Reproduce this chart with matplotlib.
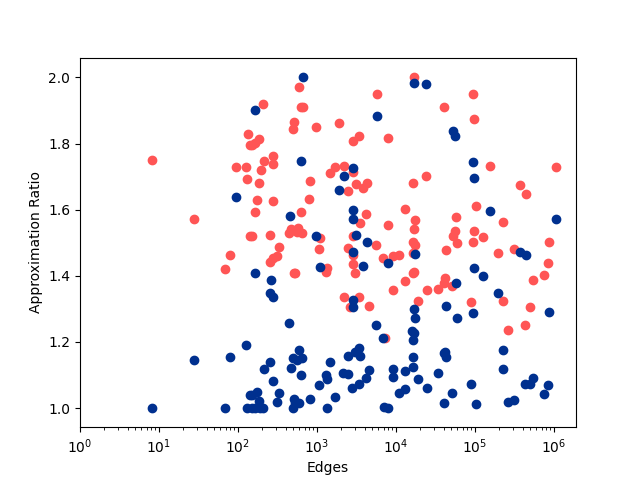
import matplotlib
matplotlib.use("Agg")
import matplotlib.pyplot as plt

red_edges = [8.2, 95, 126, 133, 142, 130, 28, 142, 80, 69,
             209, 597, 633, 671, 516, 501, 980, 1915, 5800, 17000,
             3430, 2880, 8000, 186, 164, 149, 280, 280, 213, 197,
             186, 176, 280, 166, 149, 256, 333, 823, 799, 633,
             473, 446, 580, 652, 553, 1092, 1070, 1690, 1473, 2217,
             2880, 3143, 3855, 4330, 2490, 16560, 13100, 4200, 3530, 8000,
             17500, 17000, 16560, 17500, 2880, 5580, 2490, 314, 275, 254,
             2880, 2880, 3055, 511, 531, 1327, 1300, 6900, 9250, 11000,
             16260, 16560, 17000, 13100, 9250, 19000, 2217, 3430, 4590, 2620,
             7260, 43000, 59700, 95000, 127000, 197000, 314000, 873000, 847000, 754000,
             547000, 42100, 40900, 34300, 24900, 51600, 89000, 228000, 501000, 433000,
             264000, 95000, 40900, 98000, 156000, 1070000, 24200, 374000, 446000, 104000,
             58000, 228000, 56300, 53100, 98000]
red_ratio = [1.75, 1.728, 1.73, 1.828, 1.795, 1.692, 1.571, 1.519, 1.462, 1.421,
             1.919, 1.97, 1.91, 1.91, 1.864, 1.843, 1.849, 1.861, 1.949, 2.0,
             1.822, 1.807, 1.816, 1.813, 1.801, 1.795, 1.762, 1.739, 1.746, 1.719,
             1.68, 1.628, 1.625, 1.592, 1.519, 1.522, 1.486, 1.686, 1.631, 1.592,
             1.541, 1.529, 1.544, 1.529, 1.533, 1.513, 1.481, 1.728, 1.71, 1.731,
             1.713, 1.677, 1.665, 1.68, 1.656, 1.68, 1.601, 1.586, 1.559, 1.553,
             1.568, 1.541, 1.503, 1.493, 1.519, 1.492, 1.483, 1.459, 1.454, 1.442,
             1.463, 1.436, 1.408, 1.408, 1.408, 1.423, 1.411, 1.454, 1.46, 1.462,
             1.468, 1.409, 1.412, 1.383, 1.356, 1.323, 1.335, 1.335, 1.308, 1.306,
             1.211, 1.478, 1.5, 1.503, 1.516, 1.468, 1.48, 1.503, 1.438, 1.401,
             1.386, 1.392, 1.377, 1.359, 1.356, 1.368, 1.32, 1.323, 1.305, 1.25,
             1.235, 1.949, 1.91, 1.873, 1.731, 1.728, 1.701, 1.674, 1.647, 1.61,
             1.577, 1.562, 1.535, 1.519, 1.535]

blue_edges = [8.2, 28, 80, 127, 142, 69, 130, 95, 671, 166,
              5800, 17000, 633, 2880, 2217, 1915, 459, 980, 2880, 2880,
              3143, 4330, 2880, 166, 264, 254, 280, 446, 1092, 3855,
              8000, 17500, 2880, 2880, 17000, 17500, 5580, 15950, 17000, 16560,
              6900, 16560, 16560, 9250, 9250, 13100, 19150, 4590, 4200, 3430,
              2800, 13100, 11000, 7110, 8000, 1706, 1350, 815, 1070, 1350,
              1300, 633, 473, 501, 553, 652, 597, 1473, 2490, 3055,
              3430, 3530, 2153, 2490, 256, 213, 280, 333, 314, 176,
              149, 186, 149, 164, 190, 209, 516, 597, 501, 531,
              43300, 59700, 95000, 58000, 98000, 127000, 197000, 374000, 446000, 873000,
              228000, 228000, 547000, 433000, 501000, 847000, 754000, 264000, 314000, 104000,
              40900, 51600, 89000, 34300, 24900, 42100, 40900, 43000, 24200, 53100,
              56300, 95000, 98000, 156000, 1070000]
blue_ratio = [1.0, 1.144, 1.154, 1.19, 1.038, 1.0, 1.0, 1.6375, 2.0, 1.9,
              1.883, 1.982, 1.746, 1.725, 1.701, 1.659, 1.58, 1.519, 1.598, 1.571,
              1.523, 1.501, 1.471, 1.407, 1.386, 1.348, 1.335, 1.256, 1.426, 1.429,
              1.438, 1.465, 1.327, 1.305, 1.301, 1.271, 1.25, 1.232, 1.227, 1.205,
              1.211, 1.153, 1.123, 1.117, 1.093, 1.111, 1.087, 1.114, 1.09, 1.072,
              1.06, 1.057, 1.044, 1.002, 1.0, 1.032, 1.0, 1.026, 1.069, 1.087,
              1.099, 1.099, 1.12, 1.15, 1.144, 1.15, 1.175, 1.138, 1.156, 1.169,
              1.181, 1.156, 1.105, 1.102, 1.138, 1.117, 1.081, 1.044, 1.017, 1.047,
              1.038, 1.022, 1.0, 1.0, 1.0, 1.0, 1.026, 1.014, 1.0, 1.014,
              1.308, 1.271, 1.286, 1.377, 1.423, 1.398, 1.347, 1.471, 1.462, 1.29,
              1.175, 1.117, 1.09, 1.072, 1.072, 1.069, 1.041, 1.017, 1.023, 1.011,
              1.014, 1.044, 1.072, 1.105, 1.062, 1.169, 1.165, 1.153, 1.979, 1.839,
              1.822, 1.743, 1.695, 1.595, 1.571]

fig, ax = plt.subplots(figsize=(6.4, 4.8), dpi=100)
ax.plot(red_edges, red_ratio, "o", color="#FF5555", linestyle="none")
ax.plot(blue_edges, blue_ratio, "o", color="#00308F", linestyle="none")
ax.set_xscale("log")
ax.set_xlim(1, 1.9e6)
ax.set_ylim(0.942, 2.06)
ax.set_xlabel("Edges")
ax.set_ylabel("Approximation Ratio")
fig.savefig("out.png", dpi=100)
